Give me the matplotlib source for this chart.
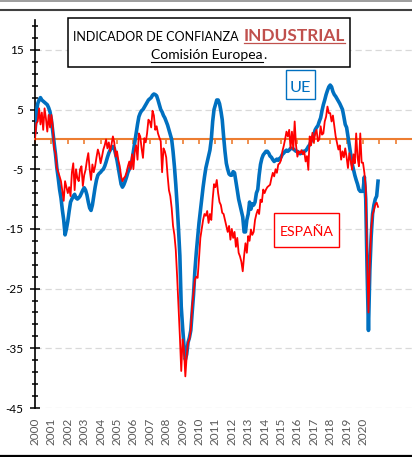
import numpy as np
import matplotlib.pyplot as plt
from matplotlib.patches import Rectangle
from matplotlib.lines import Line2D
from matplotlib.ticker import FixedLocator

plt.rcParams['font.family'] = ['Lato', 'DejaVu Sans']

# Indicador de confianza industrial, mensual ene-2000 .. dic-2020
ue = [
    1.2, 4.5, 6.0, 6.6, 7.0, 6.6, 6.4, 6.2, 6.0, 5.8, 5.3, 4.6,            # 2000
    3.3, 1.3, -0.6, -2.5, -4.8, -6.5, -8.4, -9.8, -11.8, -13.5, -16.0, -15.0,  # 2001
    -13.7, -12.0, -10.5, -10.0, -9.5, -9.2, -9.8, -10.0, -9.8, -9.5, -9.0, -8.5,  # 2002
    -8.1, -8.5, -9.3, -10.5, -11.5, -11.9, -11.0, -9.5, -8.0, -6.8, -6.0, -5.7,  # 2003
    -5.5, -5.2, -5.0, -4.5, -3.8, -3.0, -2.3, -1.8, -1.4, -1.2, -1.5, -2.5,  # 2004
    -3.5, -4.8, -6.2, -7.5, -8.0, -7.6, -7.0, -6.3, -5.5, -5.0, -4.5, -3.5,  # 2005
    -2.0, -0.5, 1.0, 2.5, 3.8, 4.4, 4.8, 5.0, 5.4, 5.8, 6.2, 6.6,          # 2006
    6.8, 7.0, 7.4, 7.6, 7.5, 7.3, 6.6, 5.8, 5.0, 4.6, 4.0, 3.6,            # 2007
    3.0, 2.4, 1.6, 0.8, 0.0, -2.0, -4.5, -7.5, -11.0, -15.0, -19.5, -28.0,  # 2008
    -31.5, -34.5, -36.9, -36.0, -34.0, -33.2, -32.0, -29.0, -26.0, -22.0, -19.0, -16.5,  # 2009
    -14.0, -12.0, -10.0, -8.0, -6.3, -4.8, -3.8, -2.8, -1.8, 0.0, 3.0, 5.0,  # 2010
    5.8, 6.6, 6.6, 6.0, 4.8, 3.3, 0.5, -2.0, -4.0, -5.0, -5.8, -6.0,       # 2011
    -6.0, -5.4, -5.6, -7.0, -8.5, -10.0, -11.0, -12.0, -13.0, -15.5, -15.5, -13.5,  # 2012
    -12.5, -10.5, -11.7, -10.8, -11.0, -10.5, -9.0, -8.4, -6.0, -4.2, -3.2, -2.6,  # 2013
    -2.3, -2.0, -2.0, -2.3, -2.8, -3.0, -3.4, -3.7, -3.5, -3.3, -3.5, -3.2,  # 2014
    -3.0, -2.5, -2.3, -2.0, -1.8, -2.0, -1.8, -1.5, -1.5, -1.6, -1.8, -2.0,  # 2015
    -2.0, -2.2, -2.4, -2.3, -2.0, -2.0, -1.9, -1.6, -1.2, -0.9, -0.3, 0.3,  # 2016
    0.8, 1.6, 2.0, 2.3, 3.0, 3.6, 4.8, 5.8, 6.6, 7.5, 8.2, 8.8,            # 2017
    9.1, 8.8, 8.0, 7.5, 7.2, 6.8, 6.4, 6.0, 5.5, 5.0, 3.8, 2.5,            # 2018
    2.0, 0.5, -1.0, -2.5, -4.0, -5.0, -6.0, -6.8, -7.5, -8.4, -8.7, -8.7,  # 2019
    -8.7, -6.3, -10.0, -22.0, -32.0, -22.0, -16.2, -12.5, -11.0, -10.0, -9.5, -7.0,  # 2020
]

espana = [
    0.0, 2.7, 3.0, 5.2, 2.5, 4.5, 1.6, 5.2, 3.5, 1.3, 4.1, 2.0,            # 2000
    4.1, 2.2, -1.5, -2.3, -4.8, -5.5, -6.2, -7.0, -8.7, -10.3, -7.0, -8.0,  # 2001
    -9.0, -8.0, -9.5, -5.5, -4.0, -8.5, -5.0, -6.5, -7.0, -5.0, -4.5, -7.8,  # 2002
    -6.0, -5.1, -3.5, -2.3, -5.0, -6.8, -4.2, -5.5, -4.5, -3.0, -1.7, -2.5,  # 2003
    -4.0, -2.9, -1.7, -1.0, 0.0, -1.5, -0.5, -2.0, -0.8, 0.5, -0.5, -2.9,  # 2004
    -2.0, -3.5, -4.5, -6.2, -7.0, -6.5, -6.2, -5.5, -4.5, -3.7, -5.0, -2.5,  # 2005
    -5.0, -2.0, -1.0, -3.4, 1.0, 0.5, -1.5, -3.1, 0.2, -0.5, 1.0, 3.3,     # 2006
    3.0, 2.0, 4.8, 4.0, 1.6, 2.2, 1.0, 0.3, -0.3, -5.5, -1.5, -2.0,        # 2007
    -3.0, -6.0, -8.5, -9.5, -11.5, -14.5, -16.0, -18.5, -23.0, -28.0, -33.0, -38.8,  # 2008
    -33.5, -35.2, -39.7, -36.3, -34.0, -33.5, -31.9, -28.0, -25.7, -23.5, -23.0, -23.2,  # 2009
    -20.0, -16.5, -15.0, -13.5, -12.5, -12.8, -12.0, -14.0, -12.5, -13.5, -10.0, -7.5,  # 2010
    -8.0, -6.8, -9.0, -10.5, -11.0, -12.3, -12.5, -13.5, -14.5, -15.5, -14.5, -16.8,  # 2011
    -15.0, -16.5, -15.5, -18.0, -16.5, -19.0, -19.6, -20.5, -22.1, -19.5, -17.4, -19.0,  # 2012
    -16.2, -17.0, -15.1, -16.0, -15.5, -13.5, -12.5, -11.8, -12.5, -10.1, -10.5, -8.4,  # 2013
    -9.0, -8.4, -8.0, -7.8, -7.6, -6.5, -5.6, -6.2, -5.0, -5.6, -4.2, -4.0,  # 2014
    -3.5, -2.0, -1.1, 0.0, 1.3, 0.5, 1.6, -1.5, 1.3, -1.7, 3.0, -1.0,      # 2015
    -2.9, -2.0, -2.3, -1.8, -2.5, -2.0, -3.7, -2.8, -5.1, 0.5, -1.0, 1.1,  # 2016
    -0.5, 1.0, 1.6, -0.3, 0.0, 2.2, 0.8, 1.0, 3.0, 3.8, 5.5, 4.4,          # 2017
    4.4, 3.0, 4.0, 2.2, 0.5, -0.6, -1.7, -1.0, -3.4, -2.0, -3.0, -1.5,     # 2018
    -3.0, -4.8, -2.3, -3.5, -5.1, -2.5, -4.0, 1.0, -3.0, -4.5, 1.0, -3.9,  # 2019
    -3.9, -5.6, -8.0, -20.0, -29.0, -21.0, -15.0, -12.6, -11.8, -10.9, -10.6, -11.3,  # 2020
]

anios = [str(a) for a in range(2000, 2021)]
ticks_y = [-45, -35, -25, -15, -5, 5, 15]
etiquetas_y = ['-45', '-35', '-25', '-15', '-5', '5', '15']

W, H = 412, 457


def fx(x):
    return x / W


def fy(y):
    return 1 - y / H


fig = plt.figure(figsize=(W / 100, H / 100), dpi=100)
ax = fig.add_axes([fx(35), fy(408), fx(412) - fx(35), fy(20) - fy(408)])

fechas = 2000 + np.arange(len(ue)) / 12.0
ax.plot(fechas, ue, color='#0070C0', lw=2.6, zorder=3, solid_joinstyle='round')
ax.plot(fechas, espana, color='#FF0000', lw=1.3, zorder=4, solid_joinstyle='round')

ax.set_xlim(2000, 2000 + (412 - 35) / 16.4)
ax.set_ylim(-45, 20)

ax.spines['top'].set_visible(False)
ax.spines['right'].set_visible(False)
ax.spines['left'].set_color('black')
ax.spines['left'].set_linewidth(1.2)
ax.spines['bottom'].set_position(('data', 0))
ax.spines['bottom'].set_color('#ED7D31')
ax.spines['bottom'].set_linewidth(1.5)

ax.set_xticks(np.arange(2000, 2023))
ax.tick_params(axis='x', which='major', direction='out', length=3.5, width=1.2,
               color='#ED7D31', labelbottom=False)

ax.set_yticks(ticks_y, labels=etiquetas_y)
ax.yaxis.set_minor_locator(FixedLocator(np.arange(-43, 20, 2)))
ax.tick_params(axis='y', which='major', direction='inout', length=6.5, width=1.1,
               labelsize=8.5, pad=5)
ax.tick_params(axis='y', which='minor', direction='inout', length=4.5, width=1.1)

ax.set_axisbelow(True)
ax.grid(axis='y', which='major', color='#D9D9D9', lw=0.9, linestyle=(0, (5, 3)))

sec = ax.secondary_xaxis('bottom')
sec.set_xticks([int(a) for a in anios], labels=anios)
sec.tick_params(axis='x', length=0, pad=7, labelsize=8.5, labelcolor='#595959',
                labelrotation=90)
sec.spines['bottom'].set_visible(False)

# bordes de la ventana
fig.add_artist(Line2D([0, 1], [fy(0.7)] * 2, color='#8C8C8C', lw=1.2))
fig.add_artist(Line2D([0, 1], [fy(10.3)] * 2, color='#404040', lw=1.5))
fig.add_artist(Line2D([0, 1], [fy(455.5)] * 2, color='black', lw=1.6))

# cajas
fig.add_artist(Rectangle((fx(68), fy(66.5)), fx(350) - fx(68), fy(18.3) - fy(66.5),
                         transform=fig.transFigure, fc='white', ec='black', lw=1.1, zorder=5))
fig.add_artist(Rectangle((fx(285.7), fy(99)), fx(315) - fx(285.7), fy(70) - fy(99),
                         transform=fig.transFigure, fc='white', ec='#0070C0', lw=1.0, zorder=5))
fig.add_artist(Rectangle((fx(274.3), fy(246.7)), fx(339) - fx(274.3), fy(212.7) - fy(246.7),
                         transform=fig.transFigure, fc='white', ec='#FF0000', lw=1.0, zorder=5))

t1 = fig.text(fx(73), fy(40.7), 'INDICADOR DE CONFIANZA', ha='left', va='baseline',
              fontsize=9.5, color='black', zorder=6)
t2 = fig.text(fx(244), fy(40.7), 'INDUSTRIAL', ha='left', va='baseline',
              fontsize=13, fontweight='bold', color='#C0504D', zorder=6)
t3 = fig.text(fx(151), fy(59.3), 'Comisión Europea', ha='left', va='baseline',
              fontsize=9.5, color='black', zorder=6)
t_ue = fig.text(fx(300.5), fy(91.7), 'UE', ha='center', va='baseline',
                fontsize=12, color='#0070C0', zorder=6)
t_es = fig.text(fx(306.7), fy(236), 'ESPAÑA', ha='center', va='baseline',
                fontsize=11, color='#FF0000', zorder=6)

renderer = fig.canvas.get_renderer()


def ajustar(t, ancho):
    w = t.get_window_extent(renderer=renderer).width
    t.set_fontsize(t.get_fontsize() * ancho / w)


ajustar(t1, 167)
ajustar(t2, 101)
ajustar(t3, 110.7)
ajustar(t_ue, 21.3)
ajustar(t_es, 54)

bb2 = t2.get_window_extent(renderer=renderer)
fig.add_artist(Line2D([bb2.x0 / W, bb2.x1 / W], [fy(43)] * 2, color='#C0504D', lw=0.9, zorder=6))
bb3 = t3.get_window_extent(renderer=renderer)
fig.add_artist(Line2D([bb3.x0 / W, bb3.x1 / W], [fy(61.5)] * 2, color='black', lw=0.8, zorder=6))
fig.text(bb3.x1 / W + 0.002, fy(59.3), '.', ha='left', va='baseline',
         fontsize=t3.get_fontsize(), color='black', zorder=6)

fig.savefig('out.png', dpi=100)
